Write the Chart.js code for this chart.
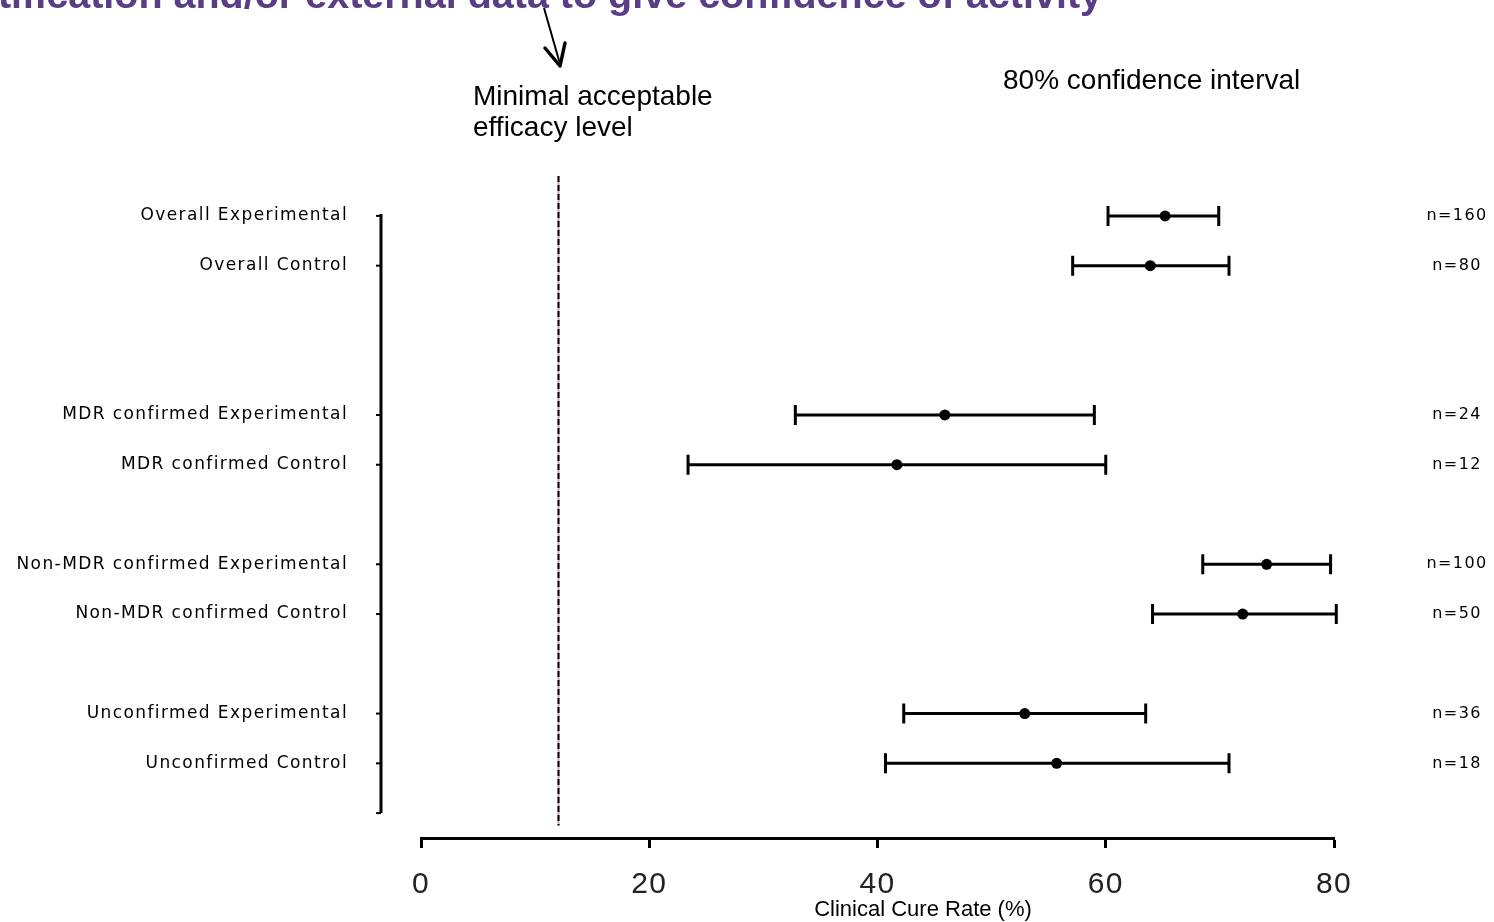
<!DOCTYPE html>
<html>
<head>
<meta charset="utf-8">
<title>Clinical Cure Rate</title>
<script src="https://cdn.jsdelivr.net/npm/chart.js@4.4.1/dist/chart.umd.min.js"></script>
<style>
  body { margin: 0; background: #fff; }
  #wrap { width: 1494px; height: 922px; }
</style>
</head>
<body>
<div id="wrap"><canvas id="chartjs-0" width="1494" height="922"></canvas></div>
<script>
// subgroup rows (top to bottom)
const rowLabels = ["Overall Experimental", "Overall Control",
  "MDR confirmed Experimental", "MDR confirmed Control",
  "Non-MDR confirmed Experimental", "Non-MDR confirmed Control",
  "Unconfirmed Experimental", "Unconfirmed Control"];
const rowPos = [0, 1, 4, 5, 7, 8, 10, 11];
const cureRate = [65.2, 63.9, 45.9, 41.7, 74.1, 72.0, 52.9, 55.7];
const ciLow = [60.2, 57.1, 32.8, 23.4, 68.5, 64.1, 42.3, 40.7];
const ciHigh = [69.9, 70.8, 59.0, 60.0, 79.7, 80.2, 63.5, 70.8];
const sampleSize = ["n=160", "n=80", "n=24", "n=12", "n=100", "n=50", "n=36", "n=18"];
const xTicks = [0, 20, 40, 60, 80];
const minEfficacy = 12;

const titleText = "justification and/or external data to give confidence of activity";
const xTitle = "Clinical Cure Rate (%)";
const noteLines = ["Minimal acceptable", "efficacy level"];
const ciNote = "80% confidence interval";

var points = rowPos.map(function (y, i) { return { x: cureRate[i], y: y }; });

// big tick padding on the y axes would otherwise eat into the plot height
function fixSide(width) {
  return function (scale) {
    scale.width = width;
    scale.paddingTop = 0;
    scale.paddingBottom = 0;
  };
}

var forestPlugin = {
  id: "forest",
  beforeDraw: function (chart) {
    // y labels are widely spaced in the original
    chart.ctx.letterSpacing = "1.4px";
  },
  beforeDatasetsDraw: function (chart) {
    var ctx = chart.ctx;
    var xs = chart.scales.x, ys = chart.scales.y;
    ctx.save();
    ctx.letterSpacing = "0px";

    // offset y axis line with small ticks
    var ax = chart.chartArea.left - 40;
    ctx.strokeStyle = "#000";
    ctx.lineWidth = 3;
    ctx.beginPath();
    ctx.moveTo(ax, ys.getPixelForValue(0) - 2);
    ctx.lineTo(ax, ys.getPixelForValue(12));
    ctx.stroke();
    ctx.lineWidth = 2;
    rowPos.concat([12]).forEach(function (v) {
      var py = ys.getPixelForValue(v);
      ctx.beginPath();
      ctx.moveTo(ax - 5, py);
      ctx.lineTo(ax, py);
      ctx.stroke();
    });

    // minimal acceptable efficacy reference line
    var rx = Math.round(xs.getPixelForValue(minEfficacy)) + 0.5;
    var y0 = ys.getPixelForValue(-0.8), y1 = ys.getPixelForValue(12.25);
    ctx.lineWidth = 2;
    ctx.strokeStyle = "#d79cc8";
    ctx.beginPath(); ctx.moveTo(rx, y0); ctx.lineTo(rx, y1); ctx.stroke();
    ctx.strokeStyle = "#000";
    ctx.setLineDash([6, 3]);
    ctx.beginPath(); ctx.moveTo(rx, y0); ctx.lineTo(rx, y1); ctx.stroke();
    ctx.setLineDash([]);

    // confidence interval whiskers
    ctx.lineWidth = 3;
    ctx.strokeStyle = "#000";
    for (var i = 0; i < rowPos.length; i++) {
      var py = ys.getPixelForValue(rowPos[i]);
      var lo = xs.getPixelForValue(ciLow[i]);
      var hi = xs.getPixelForValue(ciHigh[i]);
      ctx.beginPath();
      ctx.moveTo(lo, py); ctx.lineTo(hi, py);
      ctx.moveTo(lo, py - 10); ctx.lineTo(lo, py + 10);
      ctx.moveTo(hi, py - 10); ctx.lineTo(hi, py + 10);
      ctx.stroke();
    }
    ctx.restore();
    ctx.letterSpacing = "0px";
  },
  afterDraw: function (chart) {
    var ctx = chart.ctx;
    ctx.save();
    ctx.letterSpacing = "0px";

    // slide title, cut off at the top
    ctx.fillStyle = "#5a3d85";
    ctx.font = "bold 39.5px 'Liberation Sans', Arial, sans-serif";
    ctx.textAlign = "right";
    ctx.textBaseline = "alphabetic";
    ctx.fillText(titleText, 1102, 8);

    ctx.fillStyle = "#000";
    ctx.font = "28px 'Liberation Sans', Arial, sans-serif";
    ctx.textAlign = "left";
    ctx.textBaseline = "middle";
    ctx.fillText(noteLines[0], 473, 97);
    ctx.fillText(noteLines[1], 473, 128);
    ctx.fillText(ciNote, 1003, 81);

    ctx.font = "22px 'Liberation Sans', Arial, sans-serif";
    ctx.textAlign = "center";
    ctx.fillText(xTitle, 923, 910);

    // arrow pointing at the reference line
    ctx.strokeStyle = "#000";
    ctx.lineWidth = 2;
    ctx.beginPath(); ctx.moveTo(544, 8); ctx.lineTo(560, 64); ctx.stroke();
    ctx.lineWidth = 3.5;
    ctx.lineCap = "round";
    ctx.lineJoin = "round";
    ctx.beginPath();
    ctx.moveTo(545, 48); ctx.lineTo(560, 66); ctx.lineTo(565, 43);
    ctx.stroke();
    ctx.restore();
  }
};

var ctx0 = document.getElementById("chartjs-0");
var myChart = new Chart(ctx0, {
  type: "scatter",
  data: {
    datasets: [{
      label: "Clinical cure rate",
      data: points,
      pointRadius: 5.5,
      pointBackgroundColor: "#000",
      pointBorderWidth: 0
    }]
  },
  options: {
    responsive: false,
    animation: false,
    layout: { padding: { top: 191, left: 0, right: 0, bottom: 0 } },
    plugins: { legend: { display: false }, tooltip: { enabled: false } },
    scales: {
      x: {
        type: "linear",
        min: 0,
        max: 80,
        z: 1,
        afterBuildTicks: function (scale) {
          scale.ticks = xTicks.map(function (v) { return { value: v }; });
        },
        afterFit: function (scale) { scale.height = 84; },
        grid: { display: true, drawOnChartArea: false, drawTicks: true, tickLength: 10, tickWidth: 3, tickColor: "#000" },
        border: { display: true, color: "#000", width: 3 },
        ticks: {
          color: "#222",
          padding: 22,
          font: { family: "'Liberation Sans', Arial, sans-serif", size: 30, lineHeight: 1 }
        }
      },
      y: {
        type: "linear",
        position: "left",
        min: -0.5,
        max: 12.5,
        reverse: true,
        afterBuildTicks: function (scale) {
          scale.ticks = rowPos.map(function (v) { return { value: v }; });
        },
        afterFit: fixSide(421),
        grid: { display: false, drawTicks: false },
        border: { display: false },
        ticks: {
          autoSkip: false,
          color: "#000",
          padding: 73,
          font: { family: "'DejaVu Sans', sans-serif", size: 17 },
          callback: function (v) { return rowLabels[rowPos.indexOf(v)]; }
        }
      },
      y2: {
        type: "linear",
        position: "right",
        min: -0.5,
        max: 12.5,
        reverse: true,
        afterBuildTicks: function (scale) {
          scale.ticks = rowPos.map(function (v) { return { value: v }; });
        },
        afterFit: fixSide(160),
        grid: { display: false, drawTicks: false },
        border: { display: false },
        ticks: {
          autoSkip: false,
          color: "#000",
          padding: 96,
          crossAlign: "center",
          font: { family: "'DejaVu Sans', sans-serif", size: 16 },
          callback: function (v) { return sampleSize[rowPos.indexOf(v)]; }
        }
      }
    }
  },
  plugins: [forestPlugin]
});
</script>
</body>
</html>
